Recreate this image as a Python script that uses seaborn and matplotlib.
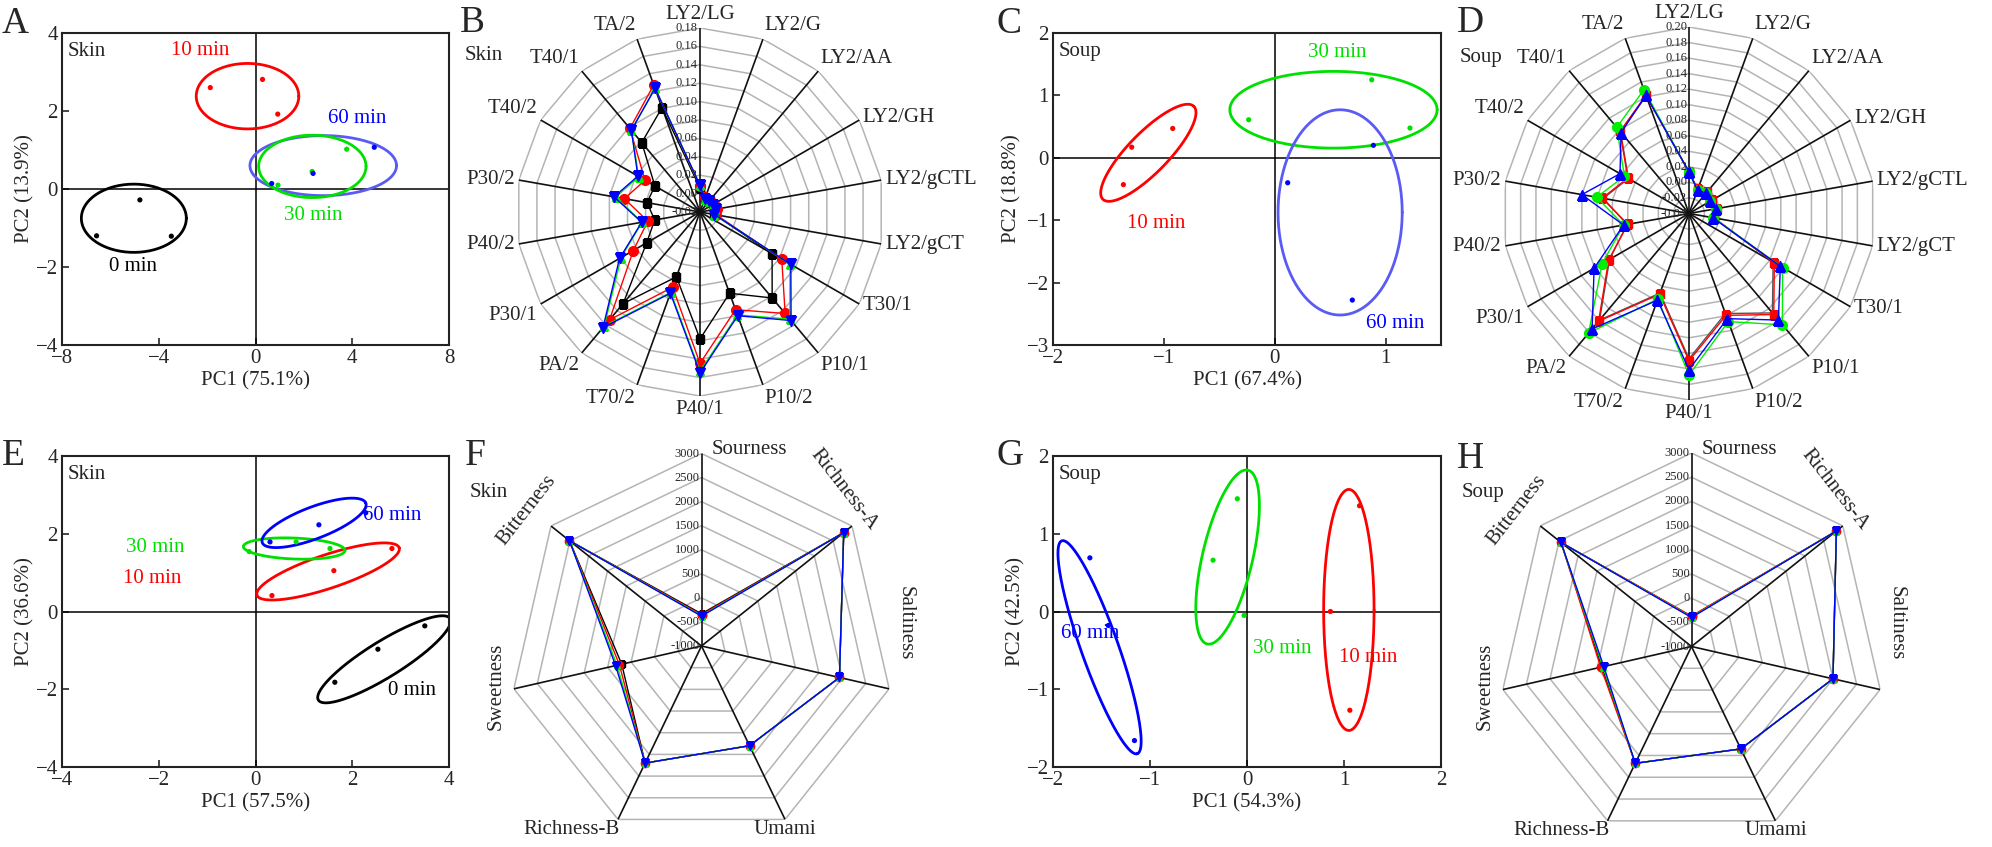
import numpy as np
import pandas as pd
import matplotlib
matplotlib.use("Agg")
import matplotlib.pyplot as plt
import seaborn as sns

sns.set_style("ticks")
plt.rcParams["font.family"] = ["Liberation Serif", "DejaVu Serif"]

W, H = 1992, 847

# ---------------- data ----------------
groups = ["0 min", "10 min", "30 min", "60 min"]
grp_colors = {"0 min": "#000000", "10 min": "#ff0000", "30 min": "#00e000", "60 min": "#0000ff"}

# A: PCA e-nose, skin
a_x = [-4.78, -6.57, -3.48, -1.87, 0.29, 0.92, 3.77, 2.34, 0.93, 4.91, 2.38, 0.67]
a_y = [-0.28, -1.20, -1.21, 2.60, 2.81, 1.92, 1.02, 0.45, 0.10, 1.07, 0.40, 0.14]
a_grp = ["0 min"] * 3 + ["10 min"] * 3 + ["30 min"] * 3 + ["60 min"] * 3
# ellipse: centre and two conjugate semi-axis vectors (data units)
a_ell = {"0 min": (-5.03, -0.75, 2.17, 0.0, 0.0, 0.875),
         "10 min": (-0.33, 2.38, 2.12, 0.0, 0.0, 0.84),
         "60 min": (2.80, 0.60, 3.03, 0.0, 0.0, 0.77),
         "30 min": (2.35, 0.58, 2.22, 0.0, 0.0, 0.80)}
a_lab = {"10 min": (-2.3, 3.55), "60 min": (4.2, 1.8), "30 min": (2.4, -0.68), "0 min": (-5.05, -2.0)}

# C: PCA e-nose, soup
c_x = [-1.29, -1.365, -0.92, -0.235, 0.875, 1.22, 0.117, 0.70, 0.89]
c_y = [0.17, -0.43, 0.47, 0.61, 1.25, 0.477, -0.40, -2.28, 0.20]
c_grp = ["10 min"] * 3 + ["30 min"] * 3 + ["60 min"] * 3
c_ell = {"10 min": (-1.14, 0.08, 0.41, 0.745, -0.129, 0.225),
         "30 min": (0.53, 0.77, 0.935, 0.0, 0.0, 0.615),
         "60 min": (0.59, -0.875, 0.56, 0.0, 0.0, 1.645)}
c_lab = {"10 min": (-1.07, -1.05), "30 min": (0.565, 1.68), "60 min": (1.09, -2.65)}

# E: PCA e-tongue, skin
e_x = [1.64, 2.53, 3.50, 0.34, 1.62, 2.82, -0.13, 0.84, 1.54, 0.30, 1.31, 2.28]
e_y = [-1.82, -0.97, -0.37, 0.41, 1.05, 1.62, 1.54, 1.79, 1.62, 1.79, 2.23, 2.54]
e_grp = ["0 min"] * 3 + ["10 min"] * 3 + ["30 min"] * 3 + ["60 min"] * 3
e_ell = {"0 min": (2.66, -1.23, 1.36, 1.05, -0.20, 0.39),
         "10 min": (1.50, 1.03, 1.47, 0.61, -0.11, 0.41),
         "30 min": (0.80, 1.62, 1.05, -0.05, 0.0, 0.27),
         "60 min": (1.21, 2.28, 1.07, 0.51, -0.12, 0.38)}
e_lab = {"60 min": (2.82, 2.46), "30 min": (-2.07, 1.64), "10 min": (-2.14, 0.85), "0 min": (3.23, -2.03)}

# G: PCA e-tongue, soup
g_x = [1.16, 0.86, 1.06, -0.10, -0.35, -0.03, -1.62, -1.43, -1.16]
g_y = [1.36, 0.00, -1.27, 1.45, 0.66, -0.05, 0.69, -0.18, -1.66]
g_grp = ["10 min"] * 3 + ["30 min"] * 3 + ["60 min"] * 3
g_ell = {"10 min": (1.05, 0.02, 0.26, 0.0, 0.0, 1.55),
         "30 min": (-0.20, 0.70, 0.20, 1.12, 0.26, -0.03),
         "60 min": (-1.52, -0.46, 0.387, -1.37, 0.185, 0.065)}
g_lab = {"60 min": (-1.62, -0.28), "30 min": (0.36, -0.48), "10 min": (1.25, -0.59)}

# B / D: radar, e-nose sensor responses
nose_cats = ["LY2/LG", "LY2/G", "LY2/AA", "LY2/GH", "LY2/gCTL", "LY2/gCT", "T30/1", "P10/1",
             "P10/2", "P40/1", "T70/2", "PA/2", "P30/1", "P40/2", "P30/2", "T40/2", "T40/1", "TA/2"]
b_0min = [0.006, -0.005, -0.005, -0.004, -0.003, -0.004, 0.0705, 0.102, 0.074, 0.118, 0.055, 0.110,
          0.047, 0.030, 0.0385, 0.0366, 0.0785, 0.1007]
b_10min = [0.008, -0.003, -0.003, -0.002, -0.001, -0.002, 0.0826, 0.124, 0.093, 0.1445, 0.067, 0.133,
           0.0637, 0.0376, 0.0635, 0.049, 0.0985, 0.127]
b_30min = [0.009, -0.005, -0.005, -0.004, -0.003, -0.004, 0.093, 0.132, 0.099, 0.153, 0.073, 0.142,
           0.079, 0.044, 0.073, 0.057, 0.096, 0.123]
b_60min = [0.0093, -0.005, -0.005, -0.004, -0.002, -0.004, 0.094, 0.134, 0.100, 0.155, 0.074, 0.144,
           0.081, 0.0444, 0.0748, 0.058, 0.096, 0.123]
b_ticks = [-0.02, 0.00, 0.02, 0.04, 0.06, 0.08, 0.10, 0.12, 0.14, 0.16, 0.18]

d_0min = [0.013, -0.007, -0.005, -0.007, -0.005, -0.008, 0.085, 0.127, 0.097, 0.147, 0.069, 0.139,
          0.078, 0.041, 0.072, 0.050, 0.097, 0.121]
d_10min = [0.0135, -0.007, -0.004, -0.006, -0.004, -0.007, 0.0868, 0.1297, 0.0995, 0.1495, 0.0705, 0.141,
           0.0794, 0.040, 0.0736, 0.051, 0.098, 0.122]
d_30min = [0.0135, -0.008, -0.006, -0.009, -0.005, -0.008, 0.099, 0.147, 0.108, 0.168, 0.077, 0.161,
           0.089, 0.0455, 0.0806, 0.056, 0.1046, 0.1296]
d_60min = [0.0135, -0.008, -0.006, -0.009, -0.005, -0.009, 0.0957, 0.139, 0.104, 0.161, 0.0787, 0.154,
           0.101, 0.0455, 0.100, 0.0625, 0.096, 0.122]
d_ticks = [-0.04, -0.02, 0.00, 0.02, 0.04, 0.06, 0.08, 0.10, 0.12, 0.14, 0.16, 0.18, 0.20]

# F / H: radar, e-tongue taste values
taste_cats = ["Sourness", "Richness-A", "Saltiness", "Umami", "Richness-B", "Sweetness", "Bitterness"]
f_0min = [-330, 2780, 1940, 1300, 1700, 700, 2510]
f_10min = [-350, 2780, 1940, 1300, 1700, 750, 2510]
f_30min = [-370, 2780, 1940, 1300, 1700, 800, 2510]
f_60min = [-380, 2780, 1940, 1300, 1700, 830, 2510]
h_0min = [-380, 2830, 2000, 1350, 1680, 900, 2450]
h_10min = [-370, 2830, 2000, 1350, 1680, 925, 2450]
h_30min = [-390, 2830, 2000, 1350, 1680, 880, 2450]
h_60min = [-400, 2830, 2000, 1350, 1680, 860, 2450]
taste_ticks = [-1000, -500, 0, 500, 1000, 1500, 2000, 2500, 3000]

# ---------------- figure ----------------
fig = plt.figure(figsize=(W / 100, H / 100), dpi=100)


def px_axes(l, t, r, b, **kw):
    return fig.add_axes([l / W, 1 - b / H, (r - l) / W, (b - t) / H], **kw)


def pca_panel(box, xs, ys, grp, ell, lab, xlim, ylim, xticks, yticks, xlabel, ylabel, tag,
              ylab_x, light_blue):
    ax = px_axes(*box)
    df = pd.DataFrame({"x": xs, "y": ys, "group": grp})
    ax.axhline(0, color="k", lw=1.1, zorder=1)
    ax.axvline(0, color="k", lw=1.1, zorder=1)
    t = np.linspace(0, 2 * np.pi, 200)
    for g, (cx, cy, ux, uy, vx, vy) in ell.items():
        col = grp_colors[g]
        if g == "60 min" and light_blue:
            col = "#5a5af5"
        ax.plot(cx + ux * np.cos(t) + vx * np.sin(t), cy + uy * np.cos(t) + vy * np.sin(t),
                color=col, lw=2.0, zorder=2)
    sns.scatterplot(data=df, x="x", y="y", hue="group", palette=grp_colors, s=14,
                    edgecolor="none", legend=False, ax=ax, zorder=3)
    for g, (lx, ly) in lab.items():
        ax.text(lx, ly, g, color=grp_colors[g], fontsize=15, ha="center", va="center")
    ax.text(0.015, 0.97, tag, transform=ax.transAxes, fontsize=15, ha="left", va="top")
    ax.set_xlim(*xlim)
    ax.set_ylim(*ylim)
    ax.set_xticks(xticks)
    ax.set_yticks(yticks)
    ax.tick_params(direction="in", length=5, width=1.2, labelsize=15, pad=3)
    for s in ax.spines.values():
        s.set_linewidth(1.5)
        s.set_color("#222222")
    ax.set_xlabel(xlabel, fontsize=15)
    ax.set_ylabel(ylabel, fontsize=15)
    ax.xaxis.set_label_coords(0.5, -0.085)
    ax.yaxis.set_label_coords(ylab_x, 0.5)
    return ax


def radar_panel(box, cats, series, styles, ticks, fmt, tag_xy, tag, label_spec=None, tick_fs=9):
    ax = px_axes(*box, projection="polar")
    ax.set_theta_offset(np.pi / 2)
    ax.set_theta_direction(-1)
    n = len(cats)
    th = np.linspace(0, 2 * np.pi, n, endpoint=False)
    thc = np.append(th, th[0])
    rmin, rmax = ticks[0], ticks[-1]
    ax.set_ylim(rmin, rmax)
    ax.grid(False)
    ax.set_xticks([])
    ax.set_yticks([])
    ax.spines["polar"].set_visible(False)
    ax.patch.set_alpha(0)
    for lev in ticks[1:]:
        ax.plot(thc, [lev] * (n + 1), color="#b4b4b4", lw=1.1, zorder=1)
    for a in th:
        ax.plot([a, a], [rmin, rmax], color="#111111", lw=1.2, zorder=2)
    for lev in ticks:
        ax.annotate(fmt.format(lev), xy=(0, lev), xytext=(-2, 0), textcoords="offset pixels",
                    ha="right", va="center", fontsize=tick_fs, zorder=6)
    for vals, (col, mk, ms) in zip(series, styles):
        vals = np.append(vals, vals[0])
        ax.plot(thc, vals, color=col, lw=1.0, marker=mk, ms=ms, mec=col, mfc=col, zorder=4)
    for i, (a, c) in enumerate(zip(th, cats)):
        ang = np.pi / 2 - a
        if label_spec is None:
            ca, sa = np.cos(ang), np.sin(ang)
            ha = "center" if abs(ca) < 0.2 else ("left" if ca > 0 else "right")
            va = "bottom" if sa > 0.5 else ("top" if sa < -0.5 else "center")
            ax.annotate(c, xy=(a, rmax), xytext=(4 * ca, 4 * sa), textcoords="offset pixels",
                        ha=ha, va=va, fontsize=15)
        else:
            dx, dy, rot, ha = label_spec[i]
            ax.annotate(c, xy=(a, rmax), xytext=(dx, dy), textcoords="offset pixels",
                        ha=ha, va="center", rotation=rot, rotation_mode="anchor", fontsize=15)
    fig.text(tag_xy[0] / W, 1 - tag_xy[1] / H, tag, fontsize=15, ha="left", va="baseline")
    return ax


pca_panel((62, 33, 449, 345), a_x, a_y, a_grp, a_ell, a_lab, (-8, 8), (-4, 4),
          [-8, -4, 0, 4, 8], [-4, -2, 0, 2, 4], "PC1 (75.1%)", "PC2 (13.9%)", "Skin", -0.072, True)
pca_panel((1053, 33, 1441, 345), c_x, c_y, c_grp, c_ell, c_lab, (-2, 1.5), (-3, 2),
          [-2, -1, 0, 1], [-3, -2, -1, 0, 1, 2], "PC1 (67.4%)", "PC2 (18.8%)", "Soup", -0.08, True)
pca_panel((62, 456, 449, 767), e_x, e_y, e_grp, e_ell, e_lab, (-4, 4), (-4, 4),
          [-4, -2, 0, 2, 4], [-4, -2, 0, 2, 4], "PC1 (57.5%)", "PC2 (36.6%)", "Skin", -0.072, False)
pca_panel((1053, 456, 1441, 767), g_x, g_y, g_grp, g_ell, g_lab, (-2, 2), (-2, 2),
          [-2, -1, 0, 1, 2], [-2, -1, 0, 1, 2], "PC1 (54.3%)", "PC2 (42.5%)", "Soup", -0.072, False)

nose_styles4 = [("#000000", "s", 6), ("#ff0000", "o", 7), ("#00ee00", "^", 6), ("#0000ff", "v", 7)]
radar_panel((516, 28, 884, 396), nose_cats, [b_0min, b_10min, b_30min, b_60min], nose_styles4,
            b_ticks, "{:.2f}", (465, 60), "Skin")
soup_styles = [("#555555", "None", 0), ("#ff0000", "s", 6), ("#00ee00", "o", 7), ("#0000ff", "^", 7)]
radar_panel((1502, 27, 1876, 400), nose_cats, [d_0min, d_10min, d_30min, d_60min], soup_styles,
            d_ticks, "{:.2f}", (1460, 62), "Soup")

taste_spec = [(10, 4, 0, "left"), (-8, 36, -52, "center"), (16, 66, -90, "center"),
              (0, -10, 0, "center"), (2, -10, 0, "right"), (-18, 3, 90, "center"),
              (-24, 16, 52, "center")]
taste_styles = [("#000000", "s", 5), ("#ff0000", "o", 6), ("#00ee00", "^", 5), ("#0000ff", "v", 6)]
radar_panel((509, 453, 894, 839), taste_cats, [f_0min, f_10min, f_30min, f_60min], taste_styles,
            taste_ticks, "{:d}", (470, 497), "Skin", taste_spec, tick_fs=9)
radar_panel((1498, 453, 1885, 840), taste_cats, [h_0min, h_10min, h_30min, h_60min], taste_styles,
            taste_ticks, "{:d}", (1462, 497), "Soup", taste_spec, tick_fs=9)

for letter, x, y in [("A", 2, 33), ("B", 460, 32), ("C", 996, 33), ("D", 1457, 32),
                     ("E", 2, 465), ("F", 465, 465), ("G", 996, 465), ("H", 1457, 468)]:
    fig.text(x / W, 1 - y / H, letter, fontsize=27, ha="left", va="baseline")

fig.savefig("out.png", dpi=100)
